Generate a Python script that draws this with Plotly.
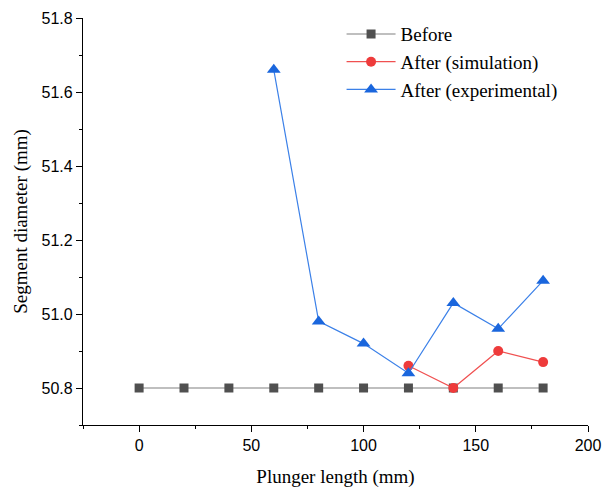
import plotly.graph_objects as go

x_before = [0, 20, 40, 60, 80, 100, 120, 140, 160, 180]
y_before = [50.8, 50.8, 50.8, 50.8, 50.8, 50.8, 50.8, 50.8, 50.8, 50.8]
x_sim = [120, 140, 160, 180]
y_sim = [50.86, 50.80, 50.90, 50.87]
x_exp = [60, 80, 100, 120, 140, 160, 180]
y_exp = [51.66, 50.98, 50.92, 50.84, 51.03, 50.96, 51.09]

fig = go.Figure()
fig.add_trace(go.Scatter(x=x_before, y=y_before, name="Before", mode="lines+markers",
                         line=dict(color="#808080", width=1.2),
                         marker=dict(symbol="square", size=9, color="#505050")))
fig.add_trace(go.Scatter(x=x_sim, y=y_sim, name="After (simulation)", mode="lines+markers",
                         line=dict(color="#f05050", width=1.2),
                         marker=dict(symbol="circle", size=10, color="#ee3b3b")))
fig.add_trace(go.Scatter(x=x_exp, y=y_exp, name="After (experimental)", mode="lines+markers",
                         line=dict(color="#3b80e8", width=1.2),
                         marker=dict(symbol="triangle-up", size=12, color="#1a66dd")))

axis_common = dict(showline=True, linecolor="black", linewidth=1.3, ticks="outside",
                   ticklen=6, tickwidth=1.2, tickcolor="black", showgrid=False, zeroline=False,
                   tickfont=dict(family="Liberation Sans, Arial", size=16, color="black"),
                   mirror=False, automargin=False)

fig.update_layout(
    width=611, height=490,
    margin=dict(l=75, r=31, t=10, b=73, autoexpand=False),
    plot_bgcolor="white", paper_bgcolor="white",
    xaxis=dict(range=[-25, 200], dtick=50, tick0=0,
               minor=dict(dtick=25, tick0=0, ticks="outside", ticklen=3, tickcolor="black"),
               title=dict(text="Plunger length (mm)", font=dict(family="Liberation Serif, Times New Roman", size=19, color="black"), standoff=16),
               **axis_common),
    yaxis=dict(range=[50.7, 51.8], dtick=0.2, tick0=50.8, tickformat=".1f",
               minor=dict(dtick=0.1, tick0=50.7, ticks="outside", ticklen=3, tickcolor="black"),
               title=dict(text="Segment diameter (mm)", font=dict(family="Liberation Serif, Times New Roman", size=19, color="black"), standoff=8),
               **axis_common),
    legend=dict(x=0.512, y=1.007, xanchor="left", yanchor="top", bgcolor="rgba(0,0,0,0)",
                font=dict(family="Liberation Serif, Times New Roman", size=19, color="black"),
                tracegroupgap=0, itemwidth=49),
    showlegend=True,
)

fig.write_html("out.html")
